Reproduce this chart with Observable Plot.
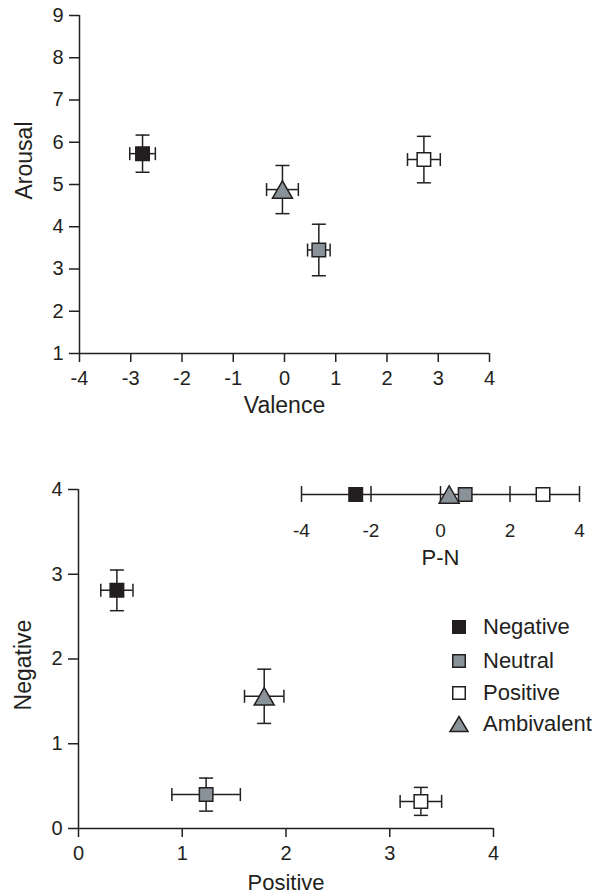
<!DOCTYPE html>
<html>
<head>
<meta charset="utf-8">
<script src="https://cdn.jsdelivr.net/npm/d3@7"></script>
<script src="https://cdn.jsdelivr.net/npm/@observablehq/plot@0.6"></script>
<style>
  html, body { margin: 0; padding: 0; background: #ffffff; }
  #wrap { position: relative; width: 595px; height: 896px; overflow: hidden; font-family: "Liberation Sans", Arial, Helvetica, sans-serif; color: #231f20; }
  #wrap svg.plot { position: absolute; }
  #wrap svg.main g[aria-label$="tick label"] { font-size: 20px; }
  #wrap svg.inset g[aria-label$="tick label"] { font-size: 19px; }
  .leg-row { position: absolute; left: 449px; height: 26px; display: flex; align-items: center; font-size: 22px; line-height: 26px; }
  .leg-row svg { width: 20px; height: 26px; margin-right: 14px; }
</style>
</head>
<body>
<div id="wrap"></div>
<script>
// ---------- data ----------
const categories = ["Negative", "Neutral", "Positive", "Ambivalent"];
const fills = ["#231f20", "#8a9299", "#ffffff", "#8a9299"];

// top panel: Valence / Arousal means and error half-widths
const valence    = [-2.77, 0.67, 2.72, -0.04];
const valenceErr = [0.25, 0.22, 0.32, 0.31];
const arousal    = [5.73, 3.45, 5.59, 4.88];
const arousalErr = [0.44, 0.61, 0.55, 0.57];

// bottom panel: Positive / Negative means and error half-widths
const positive    = [0.37, 1.23, 3.30, 1.79];
const positiveErr = [0.155, 0.33, 0.20, 0.19];
const negative    = [2.81, 0.40, 0.32, 1.56];
const negativeErr = [0.24, 0.195, 0.165, 0.32];

// inset: P-N
const pn = [-2.44, 0.71, 2.95, 0.25];

// tick labels
const valenceTicks = [-4, -3, -2, -1, 0, 1, 2, 3, 4];
const arousalTicks = [1, 2, 3, 4, 5, 6, 7, 8, 9];
const posTicks = [0, 1, 2, 3, 4];
const negTicks = [0, 1, 2, 3, 4];
const pnTicks = [-4, -2, 0, 2, 4];

// ---------- build ----------
const INK = "#231f20";
const FONT = '"Liberation Sans", Arial, Helvetica, sans-serif';
const fmt = d => String(d);
const rows = categories.map((c, i) => ({
  cat: c,
  v: valence[i], ve: valenceErr[i], a: arousal[i], ae: arousalErr[i],
  p: positive[i], pe: positiveErr[i], n: negative[i], ne: negativeErr[i],
  pn: pn[i]
}));
const squares = rows.filter(d => d.cat !== "Ambivalent");
const tris = rows.filter(d => d.cat === "Ambivalent");

const hCap = { draw(ctx) { ctx.moveTo(-7, 0); ctx.lineTo(7, 0); } };
const vCap = { draw(ctx) { ctx.moveTo(0, -6.5); ctx.lineTo(0, 6.5); } };
const tri = { draw(ctx) { const s = 20, h = 17.5; ctx.moveTo(0, -h / 2); ctx.lineTo(s / 2, h / 2); ctx.lineTo(-s / 2, h / 2); ctx.closePath(); } };
const sq = { draw(ctx) { const s = 13.5; ctx.rect(-s / 2, -s / 2, s, s); } };

const color = { domain: categories, range: fills };

function errorMarks(data, x, xe, y, ye) {
  return [
    Plot.ruleX(data, { x, y1: d => d[y] - d[ye], y2: d => d[y] + d[ye], stroke: INK, strokeWidth: 1.5 }),
    Plot.ruleY(data, { y, x1: d => d[x] - d[xe], x2: d => d[x] + d[xe], stroke: INK, strokeWidth: 1.5 }),
    Plot.dot(data, { x, y: d => d[y] - d[ye], symbol: hCap, r: 5, stroke: INK, strokeWidth: 1.5, fill: "none" }),
    Plot.dot(data, { x, y: d => d[y] + d[ye], symbol: hCap, r: 5, stroke: INK, strokeWidth: 1.5, fill: "none" }),
    Plot.dot(data, { y, x: d => d[x] - d[xe], symbol: vCap, r: 5, stroke: INK, strokeWidth: 1.5, fill: "none" }),
    Plot.dot(data, { y, x: d => d[x] + d[xe], symbol: vCap, r: 5, stroke: INK, strokeWidth: 1.5, fill: "none" }),
    Plot.dot(squares, { x, y, symbol: sq, r: 5, fill: "cat", stroke: INK, strokeWidth: 1.5 }),
    Plot.dot(tris, { x, y, symbol: tri, r: 5, fill: "cat", stroke: INK, strokeWidth: 1.5 })
  ];
}

const baseStyle = { fontFamily: FONT, fontSize: "20px", color: INK, background: "transparent", overflow: "visible" };

const topPlot = Plot.plot({
  width: 595, height: 420,
  marginLeft: 79, marginRight: 106, marginTop: 15, marginBottom: 67,
  style: baseStyle,
  x: { domain: [-4, 4] },
  y: { domain: [1, 9] },
  color,
  marks: [
    Plot.axisY({ ticks: arousalTicks, tickFormat: fmt, tickSize: 10, tickPadding: 6, label: null, strokeWidth: 1.5 }),
    Plot.axisX({ ticks: valenceTicks, tickFormat: fmt, tickSize: 9, tickPadding: 8, label: null, strokeWidth: 1.5 }),
    Plot.ruleX([-4], { y1: 1, y2: 9, stroke: INK, strokeWidth: 1.5 }),
    Plot.ruleY([1], { x1: -4, x2: 4, stroke: INK, strokeWidth: 1.5 }),
    Plot.text(["Valence"], { frameAnchor: "bottom", dy: 52, fontSize: 23, textAnchor: "middle", lineAnchor: "middle", fill: INK }),
    Plot.text(["Arousal"], { frameAnchor: "left", dx: -55, dy: -24, rotate: -90, fontSize: 23, textAnchor: "middle", lineAnchor: "middle", fill: INK }),
    ...errorMarks(rows, "v", "ve", "a", "ae")
  ]
});
topPlot.style.left = "0px"; topPlot.style.top = "0px";

const bottomPlot = Plot.plot({
  width: 595, height: 446,
  marginLeft: 78, marginRight: 102, marginTop: 39, marginBottom: 68,
  style: baseStyle,
  x: { domain: [0, 4] },
  y: { domain: [0, 4] },
  color,
  marks: [
    Plot.axisY({ ticks: negTicks, tickFormat: fmt, tickSize: 10, tickPadding: 6, label: null, strokeWidth: 1.5 }),
    Plot.axisX({ ticks: posTicks, tickFormat: fmt, tickSize: 9, tickPadding: 8, label: null, strokeWidth: 1.5 }),
    Plot.ruleX([0], { y1: 0, y2: 4, stroke: INK, strokeWidth: 1.5 }),
    Plot.ruleY([0], { x1: 0, x2: 4, stroke: INK, strokeWidth: 1.5 }),
    Plot.text(["Positive"], { frameAnchor: "bottom", dy: 54, fontSize: 22, textAnchor: "middle", lineAnchor: "middle", fill: INK }),
    Plot.text(["Negative"], { frameAnchor: "left", dx: -55, dy: 6, rotate: -90, fontSize: 23, textAnchor: "middle", lineAnchor: "middle", fill: INK }),
    ...errorMarks(rows, "p", "pe", "n", "ne")
  ]
});
bottomPlot.style.left = "0px"; bottomPlot.style.top = "450px";

const insetPlot = Plot.plot({
  width: 320, height: 100,
  marginLeft: 21, marginRight: 21, marginTop: 16, marginBottom: 68,
  style: baseStyle,
  x: { domain: [-4, 4] },
  y: { domain: [-1, 1], axis: null },
  color,
  marks: [
    Plot.axisX({ ticks: pnTicks, tickFormat: fmt, tickSize: 0, tickPadding: 21, label: null }),
    Plot.ruleY([0], { x1: -4, x2: 4, stroke: INK, strokeWidth: 1.5 }),
    Plot.tickX(pnTicks, { x: d => d, stroke: INK, strokeWidth: 1.5 }),
    Plot.text(["P-N"], { frameAnchor: "bottom", dy: 55, fontSize: 22, textAnchor: "middle", lineAnchor: "middle", fill: INK }),
    Plot.dot(tris, { x: "pn", y: 0, symbol: tri, r: 5, fill: "cat", stroke: INK, strokeWidth: 1.5 }),
    Plot.dot(squares, { x: "pn", y: 0, symbol: sq, r: 5, fill: "cat", stroke: INK, strokeWidth: 1.5 })
  ]
});
insetPlot.style.left = "280px"; insetPlot.style.top = "470px";

const wrap = document.getElementById("wrap");
topPlot.classList.add("plot", "main");
bottomPlot.classList.add("plot", "main");
insetPlot.classList.add("plot", "inset");
[topPlot, bottomPlot, insetPlot].forEach(s => wrap.appendChild(s));

// legend
const legendY = [627, 661, 693, 724];
categories.forEach((c, i) => {
  const row = document.createElement("div");
  row.className = "leg-row";
  row.style.top = (legendY[i] - 13) + "px";
  const shape = c === "Ambivalent"
    ? `<polygon points="10,5.5 19,20.5 1,20.5" fill="${fills[i]}" stroke="${INK}" stroke-width="1.5"/>`
    : `<rect x="3.75" y="6.75" width="12.5" height="12.5" fill="${fills[i]}" stroke="${INK}" stroke-width="1.5"/>`;
  row.innerHTML = `<svg viewBox="0 0 20 26">${shape}</svg><span>${c}</span>`;
  wrap.appendChild(row);
});
</script>
</body>
</html>
